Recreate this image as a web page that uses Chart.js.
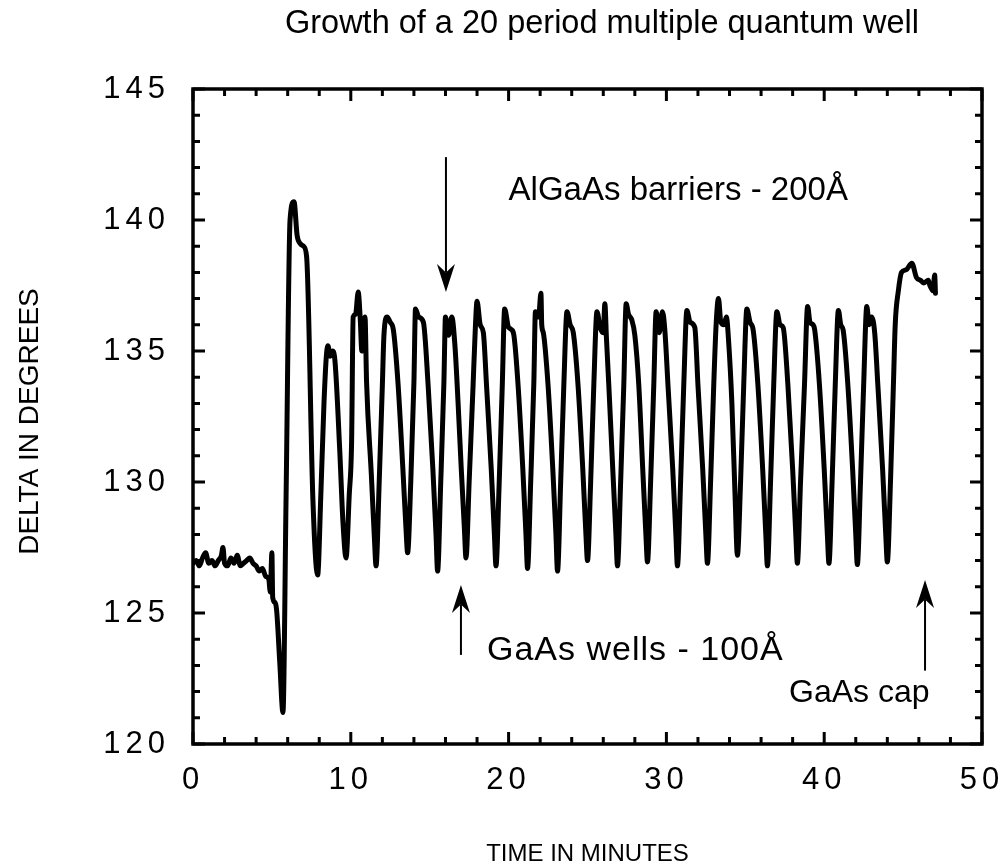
<!DOCTYPE html>
<html>
<head>
<meta charset="utf-8">
<script src="https://cdn.jsdelivr.net/npm/chart.js@4"></script>
<style>
  html, body { margin: 0; padding: 0; background: #fff; }
  canvas { display: block; }
</style>
</head>
<body>
<canvas id="mqwChart" width="1004" height="867"></canvas>
<script>
// Ellipsometric delta during growth of a 20 period GaAs/AlGaAs MQW

// Substrate baseline, oxide desorption dip and first AlGaAs layer
const baseTime = [0.0, 0.2, 0.4, 0.6, 0.8, 1.0, 1.2, 1.4, 1.6, 1.8, 1.9, 2.0, 2.2, 2.4, 2.6, 2.8,
    3.0, 3.2, 3.4, 3.6, 3.8, 4.0, 4.2, 4.4, 4.6, 4.8, 4.9, 5.0, 5.05, 5.2, 5.3, 5.5, 5.7,
    5.9, 6.15, 6.4, 6.6, 6.8, 7.0, 7.2, 7.6, 7.9];
const baseDelta = [126.9, 127.0, 126.8, 127.1, 127.3, 126.9, 127.0, 126.8, 127.0, 127.2, 127.5, 126.9,
    126.8, 127.1, 126.9, 127.2, 126.8, 126.9, 127.0, 127.1, 126.9, 126.8, 126.6, 126.7, 126.4, 126.3,
    125.8, 127.3, 125.6, 125.4, 125.1, 123.1, 121.2, 129.5, 140.0, 140.7, 139.4, 139.1, 139.0, 138.6,
    129.3, 126.45];

// Well / barrier oscillations
const wellTime = [
    8.1, 8.3, 8.45, 8.55, 8.7, 8.85, 9.0, 9.3, 9.5, 9.7,
    9.9, 10.05, 10.15, 10.3, 10.47, 10.6, 10.7, 10.9, 11.0, 11.3, 11.5, 11.6,
    11.8, 12.0, 12.1, 12.3, 12.5, 12.7, 13.0, 13.3, 13.5, 13.6,
    13.8, 14.0, 14.1, 14.3, 14.6, 14.9, 15.2, 15.4, 15.5,
    15.7, 15.9, 16.0, 16.2, 16.4, 16.6, 16.8, 17.0, 17.2, 17.3,
    17.5, 17.75, 17.9, 18.0, 18.2, 18.4, 18.6, 18.9, 19.1, 19.2,
    19.4, 19.6, 19.75, 20.0, 20.3, 20.6, 20.9, 21.1, 21.2,
    21.4, 21.6, 21.7, 21.9, 22.05, 22.1, 22.2, 22.5, 22.8, 23.0, 23.1,
    23.3, 23.5, 23.7, 23.9, 24.1, 24.4, 24.7, 24.9, 25.0,
    25.2, 25.4, 25.6, 25.8, 26.0, 26.1, 26.2, 26.35, 26.6, 26.8, 26.9,
    27.1, 27.3, 27.45, 27.6, 27.8, 28.0, 28.25, 28.5, 28.7, 28.8,
    29.0, 29.2, 29.35, 29.55, 29.75, 29.9, 30.1, 30.4, 30.6, 30.7,
    30.9, 31.1, 31.3, 31.5, 31.8, 32.0, 32.3, 32.5, 32.6,
    32.8, 33.0, 33.15, 33.3, 33.45, 33.65, 33.8, 33.95, 34.15, 34.35, 34.5,
    34.7, 34.9, 35.1, 35.3, 35.5, 35.8, 36.1, 36.3, 36.4,
    36.6, 36.8, 37.0, 37.2, 37.4, 37.7, 38.0, 38.2, 38.3,
    38.5, 38.75, 38.95, 39.1, 39.3, 39.4, 39.7, 40.0, 40.2, 40.3,
    40.5, 40.7, 40.9, 41.05, 41.2, 41.5, 41.8, 42.0, 42.1,
    42.3, 42.5, 42.7, 42.85, 43.0, 43.2, 43.4, 43.7, 43.9, 44.0];
const wellDelta = [
    129.5, 133.0, 134.8, 135.2, 134.8, 135.0, 134.6, 131.2, 128.5, 127.1,
    129.5, 131.5, 136.3, 136.4, 137.25, 136.2, 135.0, 136.3, 133.8, 130.3, 127.8, 126.8,
    130.0, 133.7, 135.6, 136.3, 136.1, 135.8, 133.7, 130.5, 128.2, 127.3,
    130.0, 133.8, 136.6, 136.3, 136.1, 133.7, 130.5, 128.0, 126.6,
    130.0, 133.8, 136.3, 135.6, 136.3, 135.2, 133.0, 130.5, 128.2, 127.1,
    130.0, 133.7, 136.0, 136.9, 136.0, 135.7, 133.7, 130.5, 128.0, 126.8,
    129.9, 133.7, 136.6, 135.9, 135.7, 133.7, 130.5, 128.0, 126.7,
    130.0, 133.8, 136.5, 136.3, 137.2, 136.0, 135.7, 133.7, 130.5, 128.0, 126.6,
    130.0, 133.7, 136.5, 136.0, 135.7, 133.7, 130.5, 128.0, 127.0,
    130.0, 133.7, 136.5, 135.9, 135.7, 136.8, 135.5, 133.7, 130.5, 128.0, 126.8,
    130.0, 133.7, 136.8, 136.4, 136.2, 135.6, 133.7, 130.5, 128.0, 126.95,
    130.0, 133.7, 136.5, 135.7, 136.5, 135.8, 133.7, 130.5, 128.0, 126.8,
    130.0, 133.7, 136.55, 136.1, 135.9, 133.7, 130.5, 128.0, 126.9,
    130.0, 133.7, 136.0, 137.0, 136.1, 136.0, 136.3, 135.3, 133.0, 129.5, 127.2,
    130.0, 133.7, 136.6, 136.1, 135.8, 133.7, 130.5, 128.0, 126.8,
    130.0, 133.7, 136.5, 136.0, 135.9, 133.7, 130.5, 128.0, 126.9,
    130.0, 133.7, 136.7, 136.1, 136.0, 135.8, 133.7, 130.5, 128.0, 126.9,
    130.0, 133.7, 136.55, 136.0, 135.8, 133.7, 130.5, 128.0, 126.85,
    130.0, 133.7, 136.7, 136.0, 136.3, 135.7, 133.7, 130.5, 128.0, 126.95];

// GaAs cap layer
const capTime = [44.2, 44.4, 44.5, 44.7, 44.9, 45.2, 45.55, 45.85, 46.1, 46.3, 46.6, 46.7, 46.9, 47.0, 47.05];
const capDelta = [130.0, 134.0, 136.0, 137.3, 138.0, 138.1, 138.35, 137.8, 137.7, 137.6, 137.7, 137.5, 137.3, 137.9, 137.2];

// Axis ranges and tick steps
const xRange = [0, 50];
const yRange = [120, 145];
const xLabelStep = 10;
const xMinorStep = 2;
const yLabelStep = 5;
const yMinorStep = 1;

const FONT = "'Liberation Sans', Arial, Helvetica, sans-serif";

// Annotations (data coordinates)
const arrowNotes = [
    { x: 16.03, from: 142.4, to: 137.25 },
    { x: 16.98, from: 123.4, to: 126.07 },
    { x: 46.39, from: 122.8, to: 126.26 }
];
const textNotes = [
    { text: 'AlGaAs barriers - 200Å', x: 20.0, y: 140.76, size: 33, spacing: 0 },
    { text: 'GaAs wells - 100Å', x: 18.63, y: 123.2, size: 34, spacing: 1 },
    { text: 'GaAs cap', x: 37.77, y: 121.6, size: 32, spacing: 0 }
];

const points = [];
[[baseTime, baseDelta], [wellTime, wellDelta], [capTime, capDelta]].forEach(([t, d]) => {
    t.forEach((v, i) => points.push({ x: v, y: d[i] }));
});

function drawArrow(ctx, x, y0, y1) {
    const dir = y1 > y0 ? 1 : -1;
    const headLen = 28, headHalf = 9;
    ctx.lineWidth = 2;
    ctx.beginPath();
    ctx.moveTo(x, y0);
    ctx.lineTo(x, y1 - dir * headLen * 0.7);
    ctx.stroke();
    ctx.beginPath();
    ctx.moveTo(x, y1);
    ctx.lineTo(x - headHalf, y1 - dir * headLen);
    ctx.lineTo(x, y1 - dir * headLen * 0.7);
    ctx.lineTo(x + headHalf, y1 - dir * headLen);
    ctx.closePath();
    ctx.fill();
}

const framePlugin = {
    id: 'frame',
    beforeDraw(chart) {
        const ctx = chart.ctx;
        ctx.save();
        ctx.fillStyle = '#fff';
        ctx.fillRect(0, 0, chart.width, chart.height);
        ctx.restore();
        // wide digit spacing of the tick labels
        ctx.letterSpacing = '5px';
    },
    afterDraw(chart) {
        const { ctx, chartArea: a, scales: { x, y } } = chart;
        ctx.save();
        ctx.letterSpacing = '0px';
        ctx.strokeStyle = '#000';
        ctx.fillStyle = '#000';

        // frame
        ctx.lineWidth = 3.5;
        ctx.strokeRect(a.left, a.top, a.right - a.left, a.bottom - a.top);

        // inward ticks on all four sides
        ctx.lineWidth = 3;
        ctx.beginPath();
        for (let v = yRange[0]; v <= yRange[1]; v += yMinorStep) {
            const py = y.getPixelForValue(v);
            const len = v % yLabelStep === 0 ? 12 : 7;
            ctx.moveTo(a.left, py); ctx.lineTo(a.left + len, py);
            ctx.moveTo(a.right, py); ctx.lineTo(a.right - len, py);
        }
        for (let v = xRange[0]; v <= xRange[1]; v += xMinorStep) {
            const px = x.getPixelForValue(v);
            const len = v % xLabelStep === 0 ? 12 : 7;
            ctx.moveTo(px, a.bottom); ctx.lineTo(px, a.bottom - len);
            ctx.moveTo(px, a.top); ctx.lineTo(px, a.top + len);
        }
        ctx.stroke();

        // title
        ctx.font = '32.5px ' + FONT;
        ctx.textAlign = 'center';
        ctx.textBaseline = 'alphabetic';
        ctx.fillText('Growth of a 20 period multiple quantum well', 602, 33);

        // axis titles
        ctx.font = '24px ' + FONT;
        ctx.fillText('TIME IN MINUTES', (a.left + a.right) / 2, 861);
        ctx.save();
        ctx.font = '28px ' + FONT;
        ctx.translate(38, (a.top + a.bottom) / 2 + 5);
        ctx.rotate(-Math.PI / 2);
        ctx.fillText('DELTA IN DEGREES', 0, 0);
        ctx.restore();

        // annotations
        ctx.textAlign = 'left';
        textNotes.forEach(n => {
            ctx.font = n.size + 'px ' + FONT;
            ctx.letterSpacing = n.spacing + 'px';
            ctx.fillText(n.text, x.getPixelForValue(n.x), y.getPixelForValue(n.y));
        });
        ctx.letterSpacing = '0px';
        arrowNotes.forEach(n => {
            drawArrow(ctx, x.getPixelForValue(n.x), y.getPixelForValue(n.from), y.getPixelForValue(n.to));
        });
        ctx.restore();
    }
};

const tickFont = { family: FONT, size: 31 };

new Chart(document.getElementById('mqwChart'), {
    type: 'scatter',
    data: {
        datasets: [{
            label: 'Delta',
            data: points,
            showLine: true,
            borderColor: '#000',
            borderWidth: 5,
            borderJoinStyle: 'round',
            borderCapStyle: 'round',
            cubicInterpolationMode: 'monotone',
            pointRadius: 0
        }]
    },
    options: {
        responsive: false,
        animation: false,
        layout: { padding: { top: 89, right: 22, bottom: 0, left: 0 } },
        plugins: {
            legend: { display: false },
            title: { display: false },
            tooltip: { enabled: false }
        },
        scales: {
            x: {
                type: 'linear',
                min: xRange[0],
                max: xRange[1],
                grid: { display: false, drawTicks: false },
                border: { display: false },
                ticks: { stepSize: xLabelStep, font: tickFont, color: '#000', padding: 18, maxRotation: 0, autoSkip: false },
                afterFit(scale) {
                    scale.height = 123;
                    scale.paddingLeft = 0;
                    scale.paddingRight = 0;
                }
            },
            y: {
                min: yRange[0],
                max: yRange[1],
                grid: { display: false, drawTicks: false },
                border: { display: false },
                ticks: { stepSize: yLabelStep, font: tickFont, color: '#000', padding: 23 },
                afterFit(scale) {
                    scale.width = 193;
                    scale.paddingTop = 0;
                    scale.paddingBottom = 0;
                }
            }
        }
    },
    plugins: [framePlugin]
});
</script>
</body>
</html>
